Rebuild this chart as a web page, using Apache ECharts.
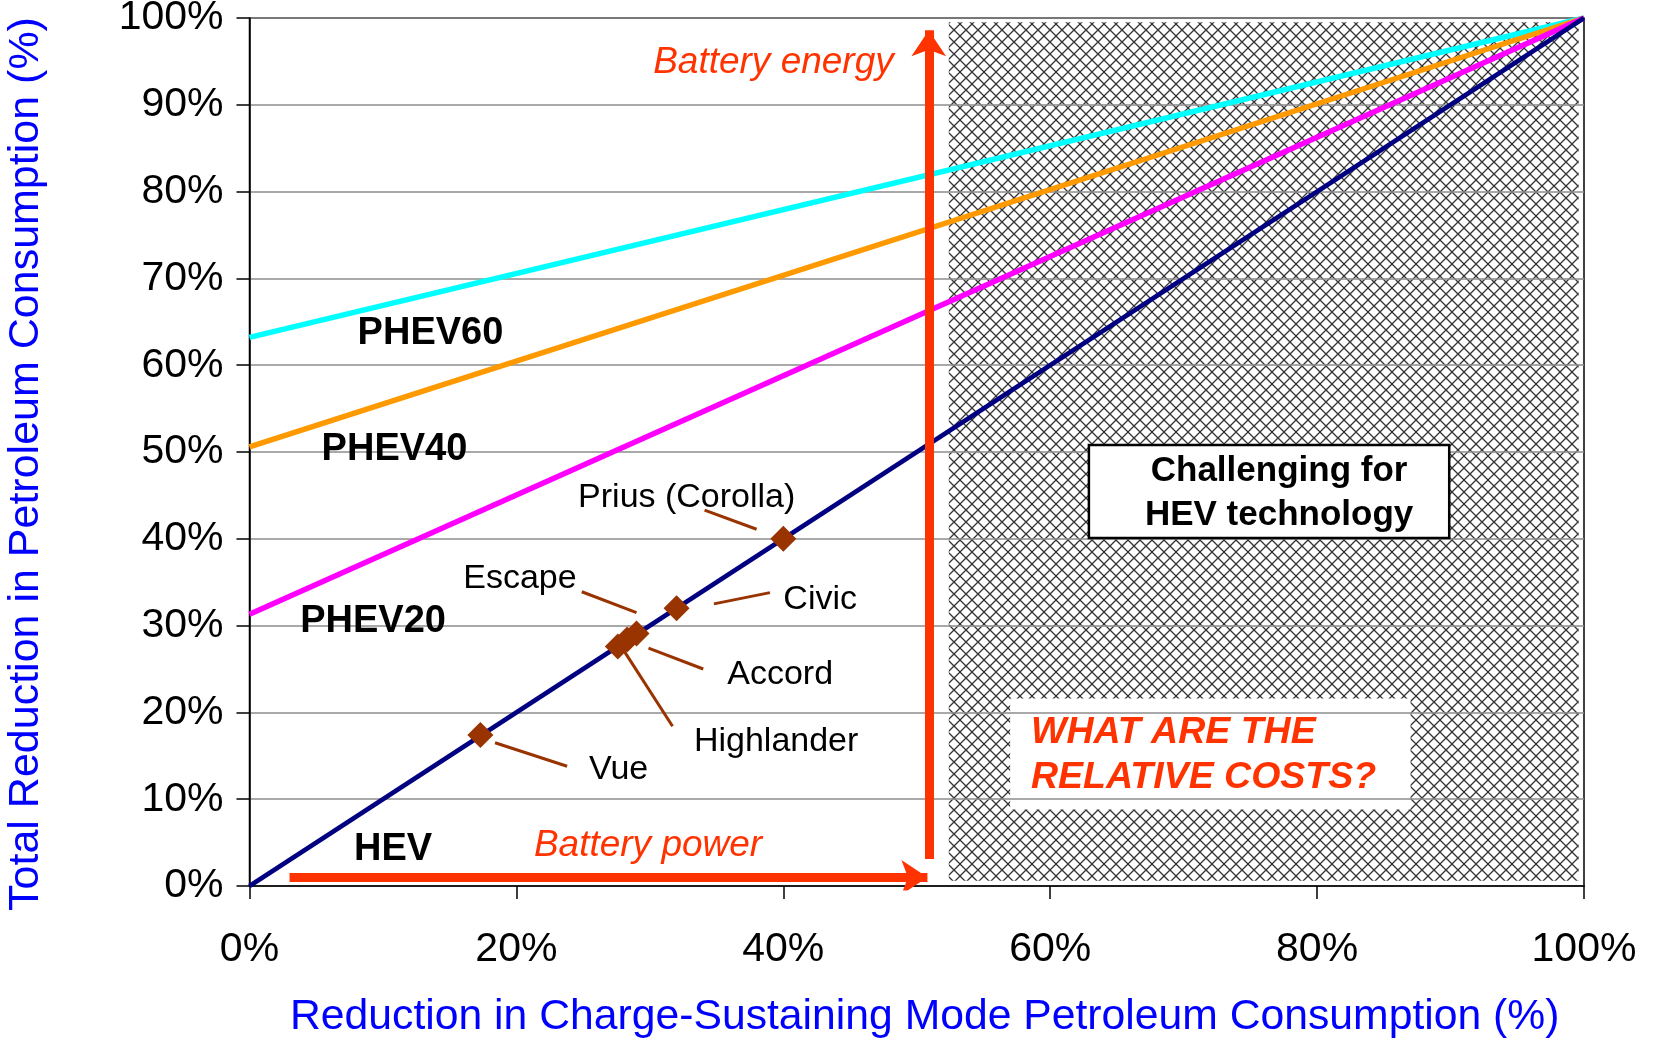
<!DOCTYPE html>
<html>
<head>
<meta charset="utf-8">
<title>Total reduction in petroleum consumption</title>
<script src="https://cdn.jsdelivr.net/npm/echarts@6/dist/echarts.min.js"></script>
<style>
html, body { margin: 0; padding: 0; background: #fff; }
#main { width: 1653px; height: 1045px; }
</style>
</head>
<body>
<div id="main"></div>
<script>
// ---- data ----
// each curve is a straight line from x = 0% to x = 100%
var lineNames = ['PHEV60', 'PHEV40', 'PHEV20', 'HEV'];
var lineX = [0, 100];
var phev60 = [63.2, 100];
var phev40 = [50.6, 100];
var phev20 = [31.3, 100];
var hev = [0, 100];

// vehicles on the HEV line
var vehicles = ['Vue', 'Highlander', 'Accord', 'Escape', 'Civic', 'Prius (Corolla)'];
var vehicleCS = [17.3, 27.6, 28.3, 29.0, 32.0, 40.0];
var vehicleTotal = [17.4, 27.6, 28.4, 29.1, 32.0, 40.0];

var xTicks = [0, 20, 40, 60, 80, 100];
var yTicks = [0, 10, 20, 30, 40, 50, 60, 70, 80, 90, 100];

var FONT = '"Liberation Sans", Arial, sans-serif';

// annotation layout (data coordinates)
var leaders = [
    [[18.4, 16.5], [23.8, 13.8]],   // Vue
    [[28.1, 27.0], [31.7, 18.4]],   // Highlander
    [[29.9, 27.4], [34.0, 25.0]],   // Accord
    [[24.9, 33.9], [29.0, 31.5]],   // Escape
    [[34.8, 32.5], [39.0, 33.8]],   // Civic
    [[34.1, 43.3], [38.0, 41.1]]    // Prius
];
var vehicleLabelPos = [[27.7, 13.4], [39.5, 16.6], [39.8, 24.3], [20.3, 35.3], [42.8, 32.9], [32.8, 44.7]];
var curveLabelPos = [[13.6, 63.6], [10.9, 50.2], [9.3, 30.4], [10.8, 4.1]];

function buildSeries(ys) {
    return lineX.map(function (x, i) { return [x, ys[i]]; });
}

// cross-hatch tile for the "challenging" zone
var T = 12;
var hatch = document.createElement('canvas');
hatch.width = T;
hatch.height = T;
var ctx = hatch.getContext('2d');
ctx.fillStyle = '#fff';
ctx.fillRect(0, 0, T, T);
ctx.strokeStyle = '#333';
ctx.lineWidth = 1.3;
for (var k = -T; k <= T; k += T) {
    ctx.beginPath();
    ctx.moveTo(k - 1, -1); ctx.lineTo(k + T + 1, T + 1);
    ctx.moveTo(k - 1, T + 1); ctx.lineTo(k + T + 1, -1);
    ctx.stroke();
}

var myChart = echarts.init(document.getElementById('main'));

// text notes, drawn as labels of an invisible scatter
function note(pos, text, style) {
    var lab = { show: true, formatter: text, position: [0, 0], align: 'center', verticalAlign: 'middle',
                fontFamily: FONT, color: '#000', opacity: 1 };
    for (var key in style) lab[key] = style[key];
    return { value: pos, label: lab };
}
var labelData = [];
vehicles.forEach(function (v, i) {
    labelData.push(note(vehicleLabelPos[i], v, { fontSize: 34 }));
});
lineNames.forEach(function (n, i) {
    labelData.push(note(curveLabelPos[i], n, { fontSize: 38, fontWeight: 'bold' }));
});
labelData.push(note([39.3, 94.8], 'Battery energy', { fontSize: 37, fontStyle: 'italic', color: '#ff3300' }));
labelData.push(note([29.9, 4.55], 'Battery power', { fontSize: 37, fontStyle: 'italic', color: '#ff3300' }));
labelData.push(note([58.6, 15.05], 'WHAT ARE THE\nRELATIVE COSTS?', {
    align: 'left', fontSize: 37.5, fontStyle: 'italic', fontWeight: 'bold', lineHeight: 45, color: '#ff3300'
}));

var option = {
    backgroundColor: '#fff',
    animation: false,
    grid: {
        left: 249.5, right: 69, top: 18, bottom: 159,
        show: true, borderColor: '#000', borderWidth: 1.5,
        outerBoundsMode: 'none'
    },
    xAxis: {
        type: 'value', min: 0, max: 100, interval: 20,
        name: 'Reduction in Charge-Sustaining Mode Petroleum Consumption (%)',
        nameLocation: 'middle', nameGap: 110,
        nameTextStyle: { color: '#0000ff', fontSize: 42.7, fontFamily: FONT, padding: [0, 0, 0, 16] },
        axisLine: { show: true, lineStyle: { color: '#000', width: 1.5 } },
        axisTick: { show: true, length: 13, lineStyle: { color: '#000', width: 1.5 } },
        axisLabel: { formatter: '{value}%', margin: 43, color: '#000', fontSize: 41, fontFamily: FONT },
        splitLine: { show: false }
    },
    yAxis: {
        type: 'value', min: 0, max: 100, interval: 10,
        name: 'Total Reduction in Petroleum Consumption (%)',
        nameLocation: 'middle', nameGap: 202,
        nameTextStyle: { color: '#0000ff', fontSize: 43, fontFamily: FONT, padding: [0, 24, 0, 0] },
        axisLine: { show: true, lineStyle: { color: '#000', width: 1.5 } },
        axisTick: { show: true, length: 13, lineStyle: { color: '#000', width: 1.5 } },
        axisLabel: { formatter: '{value}%', margin: 26, color: '#000', fontSize: 41, fontFamily: FONT },
        splitLine: { show: true, lineStyle: { color: '#8c8c8c', width: 1.5 } }
    },
    series: [
        {
            // hatched zone and the white note box, under the grid lines
            type: 'custom', z: -1, silent: true, data: [0],
            renderItem: function (params, api) {
                var a = api.coord([52.4, 99.5]), b = api.coord([99.6, 0.6]);
                var c = api.coord([57.0, 21.6]), d = api.coord([87.0, 8.8]);
                return {
                    type: 'group', children: [
                        { type: 'rect', shape: { x: a[0], y: a[1], width: b[0] - a[0], height: b[1] - a[1] },
                          style: { fill: { image: hatch, repeat: 'repeat' } } },
                        { type: 'rect', shape: { x: c[0], y: c[1], width: d[0] - c[0], height: d[1] - c[1] },
                          style: { fill: '#fff' } }
                    ]
                };
            }
        },
        { name: 'PHEV60', type: 'line', data: buildSeries(phev60), showSymbol: false, z: 3,
          lineStyle: { color: '#00ffff', width: 5.5 } },
        { name: 'PHEV40', type: 'line', data: buildSeries(phev40), showSymbol: false, z: 3,
          lineStyle: { color: '#ff9900', width: 5.5 } },
        { name: 'PHEV20', type: 'line', data: buildSeries(phev20), showSymbol: false, z: 3,
          lineStyle: { color: '#ff00ff', width: 5.5 } },
        { name: 'HEV', type: 'line', data: buildSeries(hev), showSymbol: false, z: 3,
          lineStyle: { color: '#000080', width: 4.5 } },
        {
            // battery power / battery energy arrows
            type: 'lines', coordinateSystem: 'cartesian2d', z: 4, silent: true,
            symbol: ['none', 'arrow'], symbolSize: 26,
            lineStyle: { color: '#ff3300', width: 9, opacity: 1 },
            data: [
                { coords: [[3.0, 1.0], [50.8, 1.0]] },
                { coords: [[50.9, 3.1], [50.9, 98.6]] }
            ]
        },
        {
            type: 'lines', coordinateSystem: 'cartesian2d', z: 4, silent: true,
            symbol: 'none',
            lineStyle: { color: '#993300', width: 3, opacity: 1 },
            data: leaders.map(function (l) { return { coords: l }; })
        },
        {
            name: 'Vehicles', type: 'scatter', z: 5,
            symbol: 'diamond', symbolSize: 26,
            itemStyle: { color: '#993300', opacity: 1 },
            data: vehicles.map(function (v, i) { return { name: v, value: [vehicleCS[i], vehicleTotal[i]] }; })
        },
        {
            type: 'scatter', z: 6, silent: true, symbolSize: 1,
            itemStyle: { color: 'rgba(0,0,0,0)', opacity: 1 },
            data: labelData
        },
        {
            // "Challenging for HEV technology" box sits over the grid lines
            type: 'custom', z: 7, silent: true, data: [0],
            renderItem: function (params, api) {
                var a = api.coord([62.9, 50.8]), b = api.coord([89.9, 40.1]);
                return {
                    type: 'group', children: [
                        { type: 'rect', shape: { x: a[0], y: a[1], width: b[0] - a[0], height: b[1] - a[1] },
                          style: { fill: '#fff', stroke: '#000', lineWidth: 2.5 } },
                        { type: 'text', style: {
                            x: (a[0] + b[0]) / 2 + 10, y: (a[1] + b[1]) / 2 + 2,
                            text: 'Challenging for\nHEV technology',
                            align: 'center', verticalAlign: 'middle', lineHeight: 44,
                            font: 'bold 35px ' + FONT, fill: '#000' } }
                    ]
                };
            }
        }
    ]
};

myChart.setOption(option);
</script>
</body>
</html>
